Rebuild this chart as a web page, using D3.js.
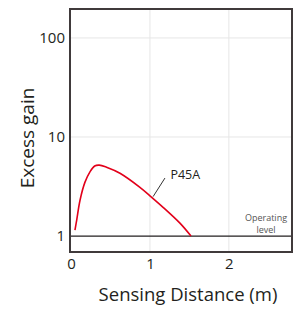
<!DOCTYPE html>
<html>
<head>
<meta charset="utf-8">
<script src="https://cdn.jsdelivr.net/npm/d3@7"></script>
<style>
  body { margin: 0; background: #fff; }
  text { font-family: "Open Sans", sans-serif; fill: #231f20; }
</style>
</head>
<body>
<div id="chart"></div>
<script>
// curve: distance (m) vs excess gain
var distance = [0.05, 0.072, 0.114, 0.177, 0.24, 0.30, 0.358, 0.45, 0.62, 0.873, 1.0, 1.17, 1.38, 1.52];
var gain = [1.15, 1.45, 2.3, 3.5, 4.45, 5.1, 5.2, 4.95, 4.3, 3.1, 2.55, 1.94, 1.35, 1.0];
var xTicks = [0, 1, 2];
var yTicks = [1, 10, 100];
var operatingLevel = 1;
var seriesName = "P45A";

var svgWidth = 296, svgHeight = 311;
var margin = { top: 9, right: 4, bottom: 59, left: 70 };
var plotWidth = svgWidth - margin.left - margin.right;
var plotHeight = svgHeight - margin.top - margin.bottom;

var svg = d3.select("#chart").append("svg")
  .attr("width", svgWidth)
  .attr("height", svgHeight);

var g = svg.append("g")
  .attr("transform", `translate(${margin.left}, ${margin.top})`);

var x = d3.scaleLinear().domain([-0.013, 2.8]).range([0, plotWidth]);
var y = d3.scaleLog().domain([0.69, 196]).range([plotHeight, 0]);

// gridlines
g.selectAll(".vgrid").data(xTicks.slice(1)).enter().append("line")
  .attr("x1", d => x(d)).attr("x2", d => x(d))
  .attr("y1", 0).attr("y2", plotHeight)
  .attr("stroke", "#e6e6e6").attr("stroke-width", 1);
g.selectAll(".hgrid").data(yTicks.slice(1)).enter().append("line")
  .attr("x1", 0).attr("x2", plotWidth)
  .attr("y1", d => y(d)).attr("y2", d => y(d))
  .attr("stroke", "#e6e6e6").attr("stroke-width", 1);

// operating level
g.append("line")
  .attr("x1", 0).attr("x2", plotWidth)
  .attr("y1", y(operatingLevel)).attr("y2", y(operatingLevel))
  .attr("stroke", "#231f20").attr("stroke-width", 1.3);

// curve
var line = d3.line()
  .x((d, i) => x(distance[i]))
  .y(d => y(d))
  .curve(d3.curveCatmullRom);
g.append("path")
  .datum(gain)
  .attr("d", line)
  .attr("fill", "none")
  .attr("stroke", "#e2001a")
  .attr("stroke-width", 1.6);

// frame
g.append("rect")
  .attr("width", plotWidth).attr("height", plotHeight)
  .attr("fill", "none")
  .attr("stroke", "#403a3b").attr("stroke-width", 2);

// axes
var xAxis = g.append("g")
  .attr("transform", `translate(0, ${plotHeight})`)
  .call(d3.axisBottom(x).tickValues(xTicks).tickSize(0).tickPadding(6).tickFormat(d3.format("d")));
var yAxis = g.append("g")
  .call(d3.axisLeft(y).tickValues(yTicks).tickSize(0).tickPadding(5).tickFormat(d3.format("d")));
[xAxis, yAxis].forEach(function(a) {
  a.select(".domain").remove();
  a.selectAll("text").style("font-size", "15px").style("font-family", "Open Sans, sans-serif").attr("fill", "#231f20");
});

// series label with leader
g.append("line")
  .attr("x1", x(1.04)).attr("y1", y(2.5))
  .attr("x2", x(1.19)).attr("y2", y(3.85))
  .attr("stroke", "#333").attr("stroke-width", 1);
g.append("text")
  .attr("x", x(1.26)).attr("y", y(3.75))
  .style("font-size", "12.5px")
  .text(seriesName);

// operating level label
g.append("text")
  .attr("x", 196).attr("y", y(operatingLevel) - 15)
  .attr("text-anchor", "middle")
  .style("font-size", "9px").style("fill", "#555")
  .text("Operating");
g.append("text")
  .attr("x", 196).attr("y", y(operatingLevel) - 3)
  .attr("text-anchor", "middle")
  .style("font-size", "9px").style("fill", "#555")
  .text("level");

// axis titles
svg.append("text")
  .attr("x", 188).attr("y", 301)
  .attr("text-anchor", "middle")
  .style("font-size", "18.5px")
  .text("Sensing Distance (m)");
svg.append("text")
  .attr("transform", "rotate(-90)")
  .attr("x", -138).attr("y", 34)
  .attr("text-anchor", "middle")
  .style("font-size", "19px")
  .text("Excess gain");
</script>
</body>
</html>
